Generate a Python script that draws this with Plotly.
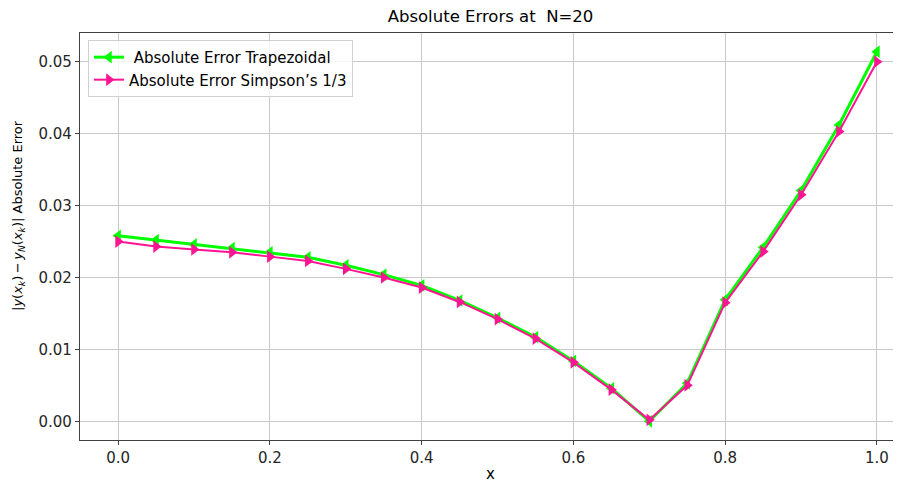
import plotly.graph_objects as go

x_vals = [0.00, 0.05, 0.10, 0.15, 0.20, 0.25, 0.30, 0.35, 0.40, 0.45, 0.50,
          0.55, 0.60, 0.65, 0.70, 0.75, 0.80, 0.85, 0.90, 0.95, 1.00]
err_trap = [0.0258, 0.0252, 0.0246, 0.0241, 0.0235, 0.0228, 0.0217, 0.0204, 0.0189, 0.0168, 0.0144,
            0.0117, 0.0084, 0.0046, 0.0000, 0.0053, 0.0169, 0.0242, 0.0321, 0.0412, 0.0514]
err_simp = [0.0250, 0.0243, 0.0239, 0.0235, 0.0229, 0.0223, 0.0212, 0.0200, 0.0186, 0.0166, 0.0142,
            0.0115, 0.0082, 0.0044, 0.0002, 0.0050, 0.0165, 0.0236, 0.0315, 0.0403, 0.0500]
x_ticks = [0.0, 0.2, 0.4, 0.6, 0.8, 1.0]
y_ticks = [0.00, 0.01, 0.02, 0.03, 0.04, 0.05]

font_family = "DejaVu Sans, sans-serif"

fig = go.Figure()
fig.add_trace(go.Scatter(
    x=x_vals, y=err_trap, mode="lines+markers",
    name=" Absolute Error Trapezoidal",
    line=dict(color="#00ff00", width=3),
    marker=dict(symbol="triangle-left", size=11, color="#00ff00"),
))
fig.add_trace(go.Scatter(
    x=x_vals, y=err_simp, mode="lines+markers",
    name="Absolute Error Simpson\u2019s 1/3",
    line=dict(color="#ff1493", width=2),
    marker=dict(symbol="triangle-right", size=11, color="#ff1493"),
))

W, H = 893, 478
L, R, T, B = 72, 0, 25, 46
ylabel = ("|<i>y</i>(<i>x</i><sub><i>k</i></sub>)\u2009\u2212\u2009"
          "<i>y</i><sub><i>N</i></sub>(<i>x</i><sub><i>k</i></sub>)| Absolute Error")
fig.update_layout(
    width=W, height=H,
    margin=dict(l=L, r=R, t=T, b=B, autoexpand=False),
    paper_bgcolor="white", plot_bgcolor="white",
    font=dict(family=font_family, size=15, color="#262626"),
    title=dict(text="Absolute Errors at  N=20", x=0.5, xanchor="center", xref="paper",
               y=1 - 8 / H, yanchor="middle",
               font=dict(size=16.5, color="#000000")),
    showlegend=True,
    legend=dict(x=0.0097, y=0.983, xanchor="left", yanchor="top",
                bgcolor="rgba(255,255,255,0.8)", bordercolor="#d0d0d0", borderwidth=1,
                font=dict(size=15, color="#000000"), tracegroupgap=0),
    annotations=[dict(
        text=ylabel, textangle=-90, showarrow=False,
        xref="paper", yref="paper",
        x=(10 - L) / (W - L - R), y=1 - (208 - T) / (H - T - B),
        xanchor="center", yanchor="middle",
        font=dict(size=13, color="#000000", family=font_family),
    )],
)
fig.update_xaxes(
    range=[-0.0502, 1.0317], tickvals=x_ticks, ticktext=[f"{v:.1f}" for v in x_ticks],
    showgrid=True, gridcolor="#c8c8c8", gridwidth=1, automargin=False,
    showline=True, linecolor="#404040", linewidth=1.2, mirror=True,
    ticks="outside", ticklen=4, tickcolor="#404040", zeroline=False,
    title=dict(text="x", font=dict(size=15, color="#000000"), standoff=2),
)
fig.update_yaxes(
    range=[-0.0026, 0.054], tickvals=y_ticks, ticktext=[f"{v:.2f}" for v in y_ticks],
    showgrid=True, gridcolor="#c8c8c8", gridwidth=1, automargin=False,
    showline=True, linecolor="#404040", linewidth=1.2,
    ticks="outside", ticklen=4, tickcolor="#404040", zeroline=False,
)

fig.write_html("out.html")
